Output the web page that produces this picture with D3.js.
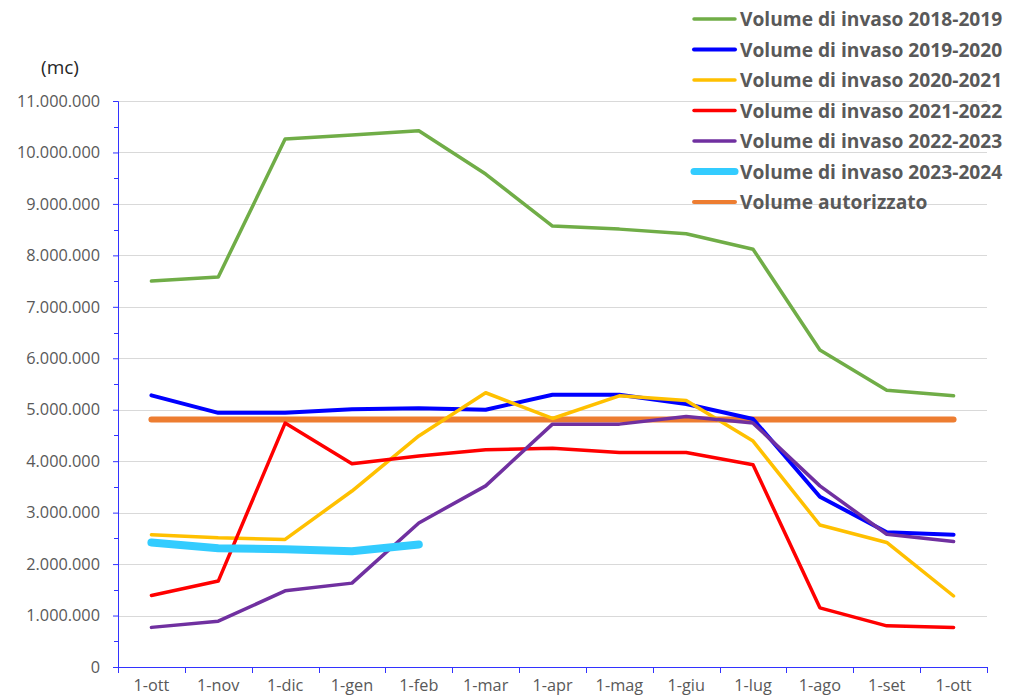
<!DOCTYPE html>
<html>
<head>
<meta charset="utf-8">
<script src="https://cdn.jsdelivr.net/npm/d3@7"></script>
<style>
  html, body { margin: 0; padding: 0; background: #fff; }
  svg { display: block; }
</style>
</head>
<body>
<div id="chart"></div>
<script>
const months = ["1-ott","1-nov","1-dic","1-gen","1-feb","1-mar","1-apr","1-mag","1-giu","1-lug","1-ago","1-set","1-ott "];
const monthLabels = ["1-ott","1-nov","1-dic","1-gen","1-feb","1-mar","1-apr","1-mag","1-giu","1-lug","1-ago","1-set","1-ott"];

const vol2018_2019 = [7500000, 7580000, 10260000, 10340000, 10420000, 9580000, 8570000, 8510000, 8420000, 8120000, 6160000, 5380000, 5270000];
const vol2019_2020 = [5280000, 4940000, 4940000, 5010000, 5030000, 5000000, 5290000, 5290000, 5110000, 4820000, 3310000, 2620000, 2570000];
const vol2020_2021 = [2570000, 2510000, 2480000, 3420000, 4490000, 5330000, 4830000, 5270000, 5180000, 4390000, 2760000, 2420000, 1380000];
const vol2021_2022 = [1390000, 1670000, 4740000, 3950000, 4100000, 4220000, 4250000, 4170000, 4170000, 3930000, 1150000, 800000, 770000];
const vol2022_2023 = [770000, 890000, 1480000, 1630000, 2800000, 3520000, 4720000, 4720000, 4870000, 4740000, 3520000, 2580000, 2440000];
const vol2023_2024 = [2420000, 2310000, 2290000, 2250000, 2380000];
const volAutorizzato = [4810000, 4810000, 4810000, 4810000, 4810000, 4810000, 4810000, 4810000, 4810000, 4810000, 4810000, 4810000, 4810000];

const yTicks = [0, 1000000, 2000000, 3000000, 4000000, 5000000, 6000000, 7000000, 8000000, 9000000, 10000000, 11000000];

const seriesNames = ["Volume di invaso 2018-2019","Volume di invaso 2019-2020","Volume di invaso 2020-2021","Volume di invaso 2021-2022","Volume di invaso 2022-2023","Volume di invaso 2023-2024","Volume autorizzato"];
const seriesValues = [vol2018_2019, vol2019_2020, vol2020_2021, vol2021_2022, vol2022_2023, vol2023_2024, volAutorizzato];
const seriesColors = ["#70AD47","#0000FF","#FFC000","#FF0000","#7030A0","#33CCFF","#ED7D31"];
const seriesWidths = [3.5, 4, 3.5, 3.5, 3.5, 8, 6];

const W = 1030, H = 697;
const mLeft = 118, mRight = 987, mTop = 101, mBottom = 667;
const FONT = "'Open Sans', sans-serif";

const svg = d3.select("#chart").append("svg").attr("width", W).attr("height", H);

const x = d3.scaleBand().domain(months).range([mLeft, mRight]).padding(0);
const y = d3.scaleLinear().domain([0, 11000000]).range([mBottom, mTop]);

const fmt = v => v === 0 ? "0" : d3.format(",")(v).replace(/,/g, ".");

// gridlines
svg.append("g").selectAll("line").data(yTicks.filter(d => d > 0)).join("line")
  .attr("x1", mLeft).attr("x2", mRight)
  .attr("y1", d => Math.round(y(d)) + 0.5).attr("y2", d => Math.round(y(d)) + 0.5)
  .attr("stroke", "#d9d9d9").attr("stroke-width", 1);

// y axis
const yAxis = d3.axisLeft(y).tickValues(yTicks).tickFormat(fmt).tickSize(5).tickPadding(13);
const gy = svg.append("g").attr("transform", `translate(${mLeft},0)`).call(yAxis);
gy.select(".domain").attr("stroke", "#3333ff");
gy.selectAll(".tick line").attr("stroke", "#3333ff");
gy.selectAll(".tick text").attr("fill", "#595959").style("font-family", FONT).style("font-size", "16.3px");

// minor y ticks
const minor = d3.range(500000, 11000000, 1000000);
svg.append("g").selectAll("line").data(minor).join("line")
  .attr("x1", mLeft - 4).attr("x2", mLeft)
  .attr("y1", d => Math.round(y(d)) + 0.5).attr("y2", d => Math.round(y(d)) + 0.5)
  .attr("stroke", "#3333ff").attr("stroke-width", 1);

// x axis
const xAxis = d3.axisBottom(x).tickSize(0).tickPadding(24).tickFormat((d, i) => monthLabels[i]);
const gx = svg.append("g").attr("transform", `translate(0,${mBottom})`).call(xAxis);
gx.select(".domain").attr("stroke", "#3333ff");
gx.selectAll(".tick text").attr("dy", 0).attr("fill", "#595959").style("font-family", FONT).style("font-size", "16.3px");
// boundary ticks
const boundaries = months.map(m => x(m)).concat([x(months[months.length - 1]) + x.bandwidth()]);
svg.append("g").selectAll("line").data(boundaries).join("line")
  .attr("x1", d => Math.round(d) + 0.5).attr("x2", d => Math.round(d) + 0.5)
  .attr("y1", mBottom).attr("y2", mBottom + 6)
  .attr("stroke", "#3333ff").attr("stroke-width", 1);

// y unit label
svg.append("text").attr("x", 60).attr("y", 74).attr("text-anchor", "middle")
  .attr("fill", "#262626").style("font-family", FONT).style("font-size", "19px").text("(mc)");

// lines
const line = d3.line().x((d, i) => x(months[i]) + x.bandwidth() / 2).y(d => y(d));
const drawOrder = [0, 6, 1, 2, 3, 4, 5];
drawOrder.forEach(k => {
  svg.append("path").datum(seriesValues[k])
    .attr("d", line)
    .attr("fill", "none")
    .attr("stroke", seriesColors[k])
    .attr("stroke-width", seriesWidths[k])
    .attr("stroke-linejoin", "round")
    .attr("stroke-linecap", "round");
});

// legend
const lg = svg.append("g");
seriesNames.forEach((name, i) => {
  const yy = 19 + i * 30.5;
  lg.append("line").attr("x1", 694).attr("x2", 735).attr("y1", yy).attr("y2", yy)
    .attr("stroke", seriesColors[i]).attr("stroke-width", Math.min(seriesWidths[i], i === 5 ? 7 : 4))
    .attr("stroke-linecap", "round");
  lg.append("text").attr("x", 740).attr("y", yy + 7)
    .attr("fill", "#595959").style("font-family", FONT).style("font-size", "19.2px")
    .style("font-weight", "bold").text(name);
});
</script>
</body>
</html>
